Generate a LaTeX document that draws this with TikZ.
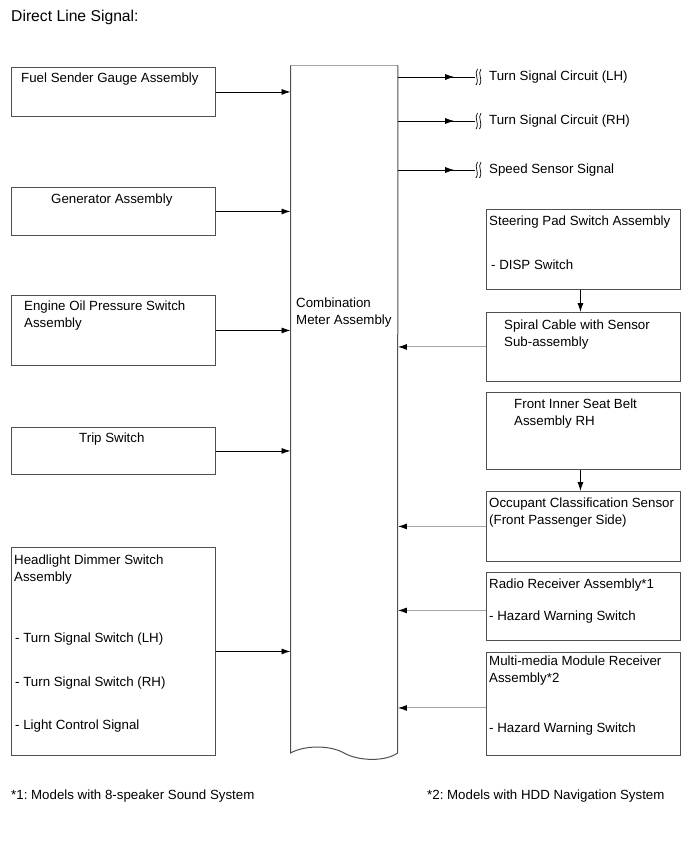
\documentclass[tikz,border=0pt]{standalone}
\usepackage{fontspec}
\setmainfont{Liberation Sans}
\usetikzlibrary{arrows.meta,decorations.markings,calc}
\definecolor{boxgray}{RGB}{80,80,80}
\definecolor{lightln}{RGB}{165,165,165}
\frenchspacing
\begin{document}
\begin{tikzpicture}[x=1pt,y=-1pt,
  box/.style={draw=boxgray,line width=0.9pt,anchor=north west,inner sep=0pt,minimum width=#1},
  txt/.style={anchor=base west,inner sep=0pt,font=\fontsize{13.3}{15}\selectfont},
  larr/.style={line width=0.8pt,-{Latex[length=9pt,width=6pt]}},
  rarr/.style={draw=lightln,line width=1pt,-{Latex[length=9pt,width=6pt,color=black]}},
  darr/.style={line width=0.8pt,-{Latex[length=9pt,width=6pt]}},
  oarr/.style={line width=0.8pt,postaction={decorate},decoration={markings,mark=at position 0.73 with {\arrow{Latex[length=9pt,width=6pt]}}}},
  sq/.style={line width=0.7pt}
]
\useasboundingbox (0,0) rectangle (690,853);

% title
\node[txt,font=\fontsize{15.7}{18}\selectfont] (title) at (11,22) {Direct Line Signal:};

% central box
\node[anchor=north west,inner sep=0pt,minimum width=107pt,minimum height=688pt] (cm) at (290.5,65.5) {};
\draw[lightln,line width=1pt] (cm.north west) -- (cm.north east);
\draw[boxgray,line width=1pt] (cm.north west) -- (290.5,753)
   .. controls (305,745) and (330,745) .. (344,753)
   .. controls (358,761) and (385,762) .. (397.5,753) -- (cm.north east);
\node[txt] (cmt1) at (296,307) {Combination};
\node[txt] (cmt2) at (296,324) {Meter Assembly};

% left boxes
\node[box=204pt,minimum height=49pt] (fuel) at (11,67) {};
\node[txt] (fuelt) at (21,83) {Fuel Sender Gauge Assembly};
\node[box=204pt,minimum height=48pt] (gen) at (11,187) {};
\node[txt] (gent) at (51,203) {Generator Assembly};
\node[box=204pt,minimum height=70pt] (oil) at (11,295) {};
\node[txt] (oilt1) at (24,310) {Engine Oil Pressure Switch};
\node[txt] (oilt2) at (24,327) {Assembly};
\node[box=204pt,minimum height=47pt] (trip) at (11,427) {};
\node[txt] (tript) at (79,442) {Trip Switch};
\node[box=204pt,minimum height=208pt] (head) at (11,547) {};
\node[txt] (headt1) at (14,564) {Headlight Dimmer Switch};
\node[txt] (headt2) at (14,581) {Assembly};
\node[txt] (headt3) at (15,642) {- Turn Signal Switch (LH)};
\node[txt] (headt4) at (15,686) {- Turn Signal Switch (RH)};
\node[txt] (headt5) at (15,729) {- Light Control Signal};

\foreach \b in {fuel,gen,oil,trip,head}
  \draw[larr] (\b.east) -- (\b.east -| cm.west);

% outputs
\foreach \n/\y/\t in {tl/77/Turn Signal Circuit (LH),tr/121/Turn Signal Circuit (RH),sp/170/Speed Sensor Signal}{
  \coordinate (\n) at (475,\y);
  \draw[oarr] (\n -| cm.east) -- (\n);
  \draw[sq] ($(\n)+(2.5,-8)$) .. controls ($(\n)+(-1.5,-3)$) and ($(\n)+(5,2)$) .. ($(\n)+(1,8)$);
  \draw[sq] ($(\n)+(6,-8)$) .. controls ($(\n)+(2,-3)$) and ($(\n)+(8.5,2)$) .. ($(\n)+(4.5,8)$);
  \node[txt] (\n t) at (489,\y+4) {\t};
}

% right boxes
\node[box=194pt,minimum height=80pt] (steer) at (486,209) {};
\node[txt] (steert1) at (489,225) {Steering Pad Switch Assembly};
\node[txt] (steert2) at (491,269) {- DISP Switch};
\node[box=194pt,minimum height=69pt] (spiral) at (486,312) {};
\node[txt] (spiralt1) at (504,329) {Spiral Cable with Sensor};
\node[txt] (spiralt2) at (504,346) {Sub-assembly};
\node[box=194pt,minimum height=77pt] (seat) at (486,392) {};
\node[txt] (seatt1) at (514,408) {Front Inner Seat Belt};
\node[txt] (seatt2) at (514,425) {Assembly RH};
\node[box=194pt,minimum height=70pt] (occ) at (486,491) {};
\node[txt] (occt1) at (489,507) {Occupant Classification Sensor};
\node[txt] (occt2) at (489,524) {(Front Passenger Side)};
\node[box=194pt,minimum height=68pt] (radio) at (486,572) {};
\node[txt] (radiot1) at (489,588) {Radio Receiver Assembly*1};
\node[txt] (radiot2) at (489,620) {- Hazard Warning Switch};
\node[box=194pt,minimum height=103pt] (multi) at (486,652) {};
\node[txt] (multit1) at (489,665) {Multi-media Module Receiver};
\node[txt] (multit2) at (489,682) {Assembly*2};
\node[txt] (multit3) at (489,732) {- Hazard Warning Switch};

\draw[darr] ([xshift=-3pt]steer.south) -- ([xshift=-3pt]spiral.north);
\draw[darr] ([xshift=-3pt]seat.south) -- ([xshift=-3pt]occ.north);

\draw[rarr] (spiral.west) -- (spiral.west -| cm.east);
\draw[rarr] (occ.west) -- (occ.west -| cm.east);
\draw[rarr] ([yshift=-4pt]radio.west) -- ([yshift=-4pt]radio.west -| cm.east);
\draw[rarr] ([yshift=-4pt]multi.west) -- ([yshift=-4pt]multi.west -| cm.east);

% footnotes
\node[txt] (fn1) at (11,799) {*1: Models with 8-speaker Sound System};
\node[txt] (fn2) at (427,799) {*2: Models with HDD Navigation System};
\end{tikzpicture}
\end{document}
